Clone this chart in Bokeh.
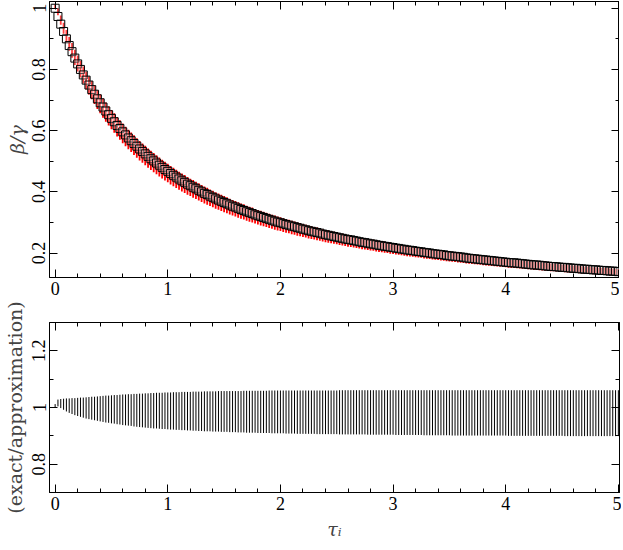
from bokeh.plotting import figure
from bokeh.layouts import column
from bokeh.models import (LinearAxis, SingleIntervalTicker, CustomJSTickFormatter,
                          Range1d, ColumnDataSource)
from bokeh.embed import file_html
from bokeh.resources import INLINE

# optical depth grid
tau = [
    0, 0.025, 0.05, 0.075, 0.1, 0.125, 0.15, 0.175, 0.2, 0.225,
    0.25, 0.275, 0.3, 0.325, 0.35, 0.375, 0.4, 0.425, 0.45, 0.475,
    0.5, 0.525, 0.55, 0.575, 0.6, 0.625, 0.65, 0.675, 0.7, 0.725,
    0.75, 0.775, 0.8, 0.825, 0.85, 0.875, 0.9, 0.925, 0.95, 0.975,
    1.0, 1.025, 1.05, 1.075, 1.1, 1.125, 1.15, 1.175, 1.2, 1.225,
    1.25, 1.275, 1.3, 1.325, 1.35, 1.375, 1.4, 1.425, 1.45, 1.475,
    1.5, 1.525, 1.55, 1.575, 1.6, 1.625, 1.65, 1.675, 1.7, 1.725,
    1.75, 1.775, 1.8, 1.825, 1.85, 1.875, 1.9, 1.925, 1.95, 1.975,
    2.0, 2.025, 2.05, 2.075, 2.1, 2.125, 2.15, 2.175, 2.2, 2.225,
    2.25, 2.275, 2.3, 2.325, 2.35, 2.375, 2.4, 2.425, 2.45, 2.475,
    2.5, 2.525, 2.55, 2.575, 2.6, 2.625, 2.65, 2.675, 2.7, 2.725,
    2.75, 2.775, 2.8, 2.825, 2.85, 2.875, 2.9, 2.925, 2.95, 2.975,
    3.0, 3.025, 3.05, 3.075, 3.1, 3.125, 3.15, 3.175, 3.2, 3.225,
    3.25, 3.275, 3.3, 3.325, 3.35, 3.375, 3.4, 3.425, 3.45, 3.475,
    3.5, 3.525, 3.55, 3.575, 3.6, 3.625, 3.65, 3.675, 3.7, 3.725,
    3.75, 3.775, 3.8, 3.825, 3.85, 3.875, 3.9, 3.925, 3.95, 3.975,
    4.0, 4.025, 4.05, 4.075, 4.1, 4.125, 4.15, 4.175, 4.2, 4.225,
    4.25, 4.275, 4.3, 4.325, 4.35, 4.375, 4.4, 4.425, 4.45, 4.475,
    4.5, 4.525, 4.55, 4.575, 4.6, 4.625, 4.65, 4.675, 4.7, 4.725,
    4.75, 4.775, 4.8, 4.825, 4.85, 4.875, 4.9, 4.925, 4.95, 4.975,
    5.0,
]

# beta/gamma (black squares)
beta_over_gamma = [
    1.000, 0.973, 0.948, 0.924, 0.900, 0.878, 0.858, 0.837, 0.818, 0.800,
    0.782, 0.765, 0.749, 0.734, 0.719, 0.704, 0.691, 0.677, 0.664, 0.652,
    0.640, 0.629, 0.617, 0.607, 0.596, 0.586, 0.576, 0.567, 0.558, 0.549,
    0.540, 0.532, 0.524, 0.516, 0.508, 0.501, 0.494, 0.487, 0.480, 0.473,
    0.467, 0.460, 0.454, 0.448, 0.442, 0.436, 0.431, 0.425, 0.420, 0.415,
    0.410, 0.405, 0.400, 0.395, 0.391, 0.386, 0.382, 0.377, 0.373, 0.369,
    0.365, 0.361, 0.357, 0.353, 0.350, 0.346, 0.342, 0.339, 0.335, 0.332,
    0.329, 0.325, 0.322, 0.319, 0.316, 0.313, 0.310, 0.307, 0.304, 0.301,
    0.299, 0.296, 0.293, 0.291, 0.288, 0.286, 0.283, 0.281, 0.278, 0.276,
    0.273, 0.271, 0.269, 0.267, 0.265, 0.262, 0.260, 0.258, 0.256, 0.254,
    0.252, 0.250, 0.248, 0.246, 0.244, 0.243, 0.241, 0.239, 0.237, 0.235,
    0.234, 0.232, 0.230, 0.229, 0.227, 0.225, 0.224, 0.222, 0.221, 0.219,
    0.218, 0.216, 0.215, 0.213, 0.212, 0.210, 0.209, 0.208, 0.206, 0.205,
    0.204, 0.202, 0.201, 0.200, 0.198, 0.197, 0.196, 0.195, 0.194, 0.192,
    0.191, 0.190, 0.189, 0.188, 0.187, 0.186, 0.184, 0.183, 0.182, 0.181,
    0.180, 0.179, 0.178, 0.177, 0.176, 0.175, 0.174, 0.173, 0.172, 0.171,
    0.170, 0.169, 0.168, 0.168, 0.167, 0.166, 0.165, 0.164, 0.163, 0.162,
    0.161, 0.161, 0.160, 0.159, 0.158, 0.157, 0.156, 0.156, 0.155, 0.154,
    0.153, 0.153, 0.152, 0.151, 0.150, 0.150, 0.149, 0.148, 0.147, 0.147,
    0.146, 0.145, 0.145, 0.144, 0.143, 0.143, 0.142, 0.141, 0.141, 0.140,
    0.139,
]

# exact/approximation: upper end of each bar
ratio_hi = [
    1.012, 1.028, 1.030, 1.031, 1.032, 1.032, 1.033, 1.033, 1.034, 1.035,
    1.035, 1.036, 1.037, 1.038, 1.038, 1.039, 1.040, 1.041, 1.042, 1.042,
    1.043, 1.044, 1.044, 1.045, 1.046, 1.046, 1.047, 1.047, 1.048, 1.048,
    1.049, 1.049, 1.050, 1.050, 1.051, 1.051, 1.052, 1.052, 1.052, 1.053,
    1.053, 1.053, 1.054, 1.054, 1.054, 1.055, 1.055, 1.055, 1.055, 1.056,
    1.056, 1.056, 1.056, 1.057, 1.057, 1.057, 1.057, 1.057, 1.058, 1.058,
    1.058, 1.058, 1.058, 1.058, 1.058, 1.058, 1.058, 1.059, 1.059, 1.059,
    1.059, 1.059, 1.059, 1.059, 1.059, 1.059, 1.060, 1.060, 1.060, 1.060,
    1.060, 1.060, 1.060, 1.060, 1.060, 1.060, 1.060, 1.060, 1.060, 1.060,
    1.060, 1.060, 1.060, 1.060, 1.060, 1.060, 1.060, 1.060, 1.060, 1.060,
    1.060, 1.061, 1.061, 1.061, 1.061, 1.061, 1.061, 1.061, 1.061, 1.061,
    1.061, 1.061, 1.061, 1.061, 1.061, 1.061, 1.061, 1.061, 1.061, 1.061,
    1.061, 1.061, 1.061, 1.061, 1.061, 1.061, 1.061, 1.061, 1.061, 1.061,
    1.061, 1.061, 1.061, 1.061, 1.061, 1.061, 1.061, 1.061, 1.061, 1.061,
    1.061, 1.061, 1.061, 1.061, 1.061, 1.061, 1.061, 1.061, 1.061, 1.061,
    1.061, 1.061, 1.061, 1.061, 1.061, 1.061, 1.061, 1.061, 1.061, 1.061,
    1.061, 1.061, 1.061, 1.061, 1.061, 1.061, 1.061, 1.061, 1.061, 1.061,
    1.061, 1.061, 1.061, 1.061, 1.061, 1.061, 1.061, 1.061, 1.061, 1.061,
    1.061, 1.061, 1.061, 1.061, 1.061, 1.061, 1.061, 1.061, 1.061, 1.061,
    1.061, 1.061, 1.061, 1.061, 1.061, 1.061, 1.061, 1.061, 1.061, 1.061,
    1.061,
]

# exact/approximation: lower end of each bar
ratio_lo = [
    1.000, 1.004, 0.998, 0.992, 0.986, 0.981, 0.977, 0.973, 0.970, 0.967,
    0.964, 0.961, 0.959, 0.957, 0.955, 0.953, 0.951, 0.949, 0.947, 0.946,
    0.944, 0.943, 0.941, 0.940, 0.938, 0.937, 0.936, 0.935, 0.933, 0.932,
    0.931, 0.930, 0.929, 0.928, 0.927, 0.926, 0.926, 0.925, 0.924, 0.924,
    0.923, 0.922, 0.922, 0.921, 0.921, 0.920, 0.920, 0.919, 0.919, 0.918,
    0.918, 0.917, 0.917, 0.916, 0.916, 0.916, 0.915, 0.915, 0.915, 0.914,
    0.914, 0.914, 0.913, 0.913, 0.913, 0.912, 0.912, 0.912, 0.911, 0.911,
    0.911, 0.911, 0.910, 0.910, 0.910, 0.910, 0.910, 0.909, 0.909, 0.909,
    0.909, 0.909, 0.908, 0.908, 0.908, 0.908, 0.907, 0.907, 0.907, 0.907,
    0.907, 0.907, 0.907, 0.906, 0.906, 0.906, 0.906, 0.906, 0.906, 0.906,
    0.906, 0.905, 0.905, 0.905, 0.905, 0.905, 0.905, 0.905, 0.905, 0.905,
    0.905, 0.904, 0.904, 0.904, 0.904, 0.904, 0.904, 0.904, 0.904, 0.904,
    0.904, 0.903, 0.903, 0.903, 0.903, 0.903, 0.903, 0.903, 0.903, 0.903,
    0.903, 0.902, 0.902, 0.902, 0.902, 0.902, 0.902, 0.902, 0.902, 0.902,
    0.902, 0.901, 0.901, 0.901, 0.901, 0.901, 0.901, 0.901, 0.901, 0.901,
    0.901, 0.901, 0.901, 0.901, 0.901, 0.901, 0.901, 0.901, 0.901, 0.901,
    0.901, 0.900, 0.900, 0.900, 0.900, 0.900, 0.900, 0.900, 0.900, 0.900,
    0.900, 0.900, 0.900, 0.900, 0.900, 0.900, 0.900, 0.900, 0.900, 0.900,
    0.900, 0.899, 0.899, 0.899, 0.899, 0.899, 0.899, 0.899, 0.899, 0.899,
    0.899, 0.899, 0.899, 0.899, 0.899, 0.899, 0.899, 0.899, 0.899, 0.899,
    0.899,
]

x_major_step = 1
y_top_major_step = 0.2
y_bot_major_step = 0.2

red_lo = [b * l for b, l in zip(beta_over_gamma, ratio_lo)]
red_hi = [b * h for b, h in zip(beta_over_gamma, ratio_hi)]

src = ColumnDataSource(dict(tau=tau, beta=beta_over_gamma, lo=ratio_lo, hi=ratio_hi,
                            rlo=red_lo, rhi=red_hi))

TICK_FONT = "Liberation Serif"
LABEL_FONT = "DejaVu Serif"
yfmt = "return String(Math.round(tick*10)/10);"


def style_axis(ax, ticker, labels=True, fmt=None):
    ax.ticker = ticker
    ax.major_tick_in = 8
    ax.major_tick_out = 0
    ax.minor_tick_in = 4
    ax.minor_tick_out = 0
    ax.axis_line_color = "black"
    ax.major_tick_line_color = "black"
    ax.minor_tick_line_color = "black"
    ax.major_label_text_font = TICK_FONT
    ax.major_label_text_font_size = "18px"
    ax.major_label_text_color = "black"
    ax.major_label_standoff = 4
    if fmt is not None:
        ax.formatter = fmt
    if not labels:
        ax.formatter = CustomJSTickFormatter(code="return '';")
        ax.major_label_standoff = 0


def make_fig(frame_h, y0, y1, ystep, ylabel, label_standoff, border_top, border_bottom):
    p = figure(frame_width=570, frame_height=frame_h,
               x_range=Range1d(-0.05, 5.01), y_range=Range1d(y0, y1),
               output_backend="svg", toolbar_location=None,
               min_border_left=43, min_border_right=2,
               min_border_top=border_top, min_border_bottom=border_bottom)
    p.xgrid.visible = False
    p.ygrid.visible = False
    p.outline_line_color = "black"
    p.outline_line_width = 1
    p.background_fill_color = "white"
    p.border_fill_color = "white"
    xt = SingleIntervalTicker(interval=x_major_step, num_minor_ticks=5)
    yt = SingleIntervalTicker(interval=ystep, num_minor_ticks=2)
    style_axis(p.below[0], xt)
    style_axis(p.left[0], yt, fmt=CustomJSTickFormatter(code=yfmt))
    p.left[0].major_label_orientation = "vertical"
    p.left[0].axis_label = ylabel
    p.left[0].axis_label_text_font = LABEL_FONT
    p.left[0].axis_label_text_font_size = "19px"
    p.left[0].axis_label_text_font_style = "normal"
    p.left[0].axis_label_standoff = label_standoff
    top = LinearAxis()
    style_axis(top, SingleIntervalTicker(interval=x_major_step, num_minor_ticks=5), labels=False)
    right = LinearAxis()
    style_axis(right, SingleIntervalTicker(interval=ystep, num_minor_ticks=2), labels=False)
    p.add_layout(top, "above")
    p.add_layout(right, "right")
    return p


p1 = make_fig(276, 0.12, 1.022, y_top_major_step, "β/γ", 2, 1, 20)
p1.left[0].axis_label_text_font_style = "italic"
p1.segment(x0="tau", y0="rlo", x1="tau", y1="rhi", source=src,
           line_color="#ff0000", line_width=1.8)
p1.scatter(x="tau", y="beta", source=src, marker="square", size=8,
           fill_color="white", fill_alpha=0.25, line_color="black", line_width=1)

p2 = make_fig(170, 0.7, 1.3, y_bot_major_step, "(exact/approximation)", 4, 25, 40)
p2.segment(x0="tau", y0="lo", x1="tau", y1="hi", source=src,
           line_color="black", line_width=1)
p2.below[0].axis_label = "τᵢ"
p2.below[0].axis_label_text_font = LABEL_FONT
p2.below[0].axis_label_text_font_size = "19px"
p2.below[0].axis_label_text_font_style = "italic"
p2.below[0].axis_label_standoff = 5

layout = column(p1, p2, spacing=0)
open("out.html", "w").write(file_html(layout, INLINE))
